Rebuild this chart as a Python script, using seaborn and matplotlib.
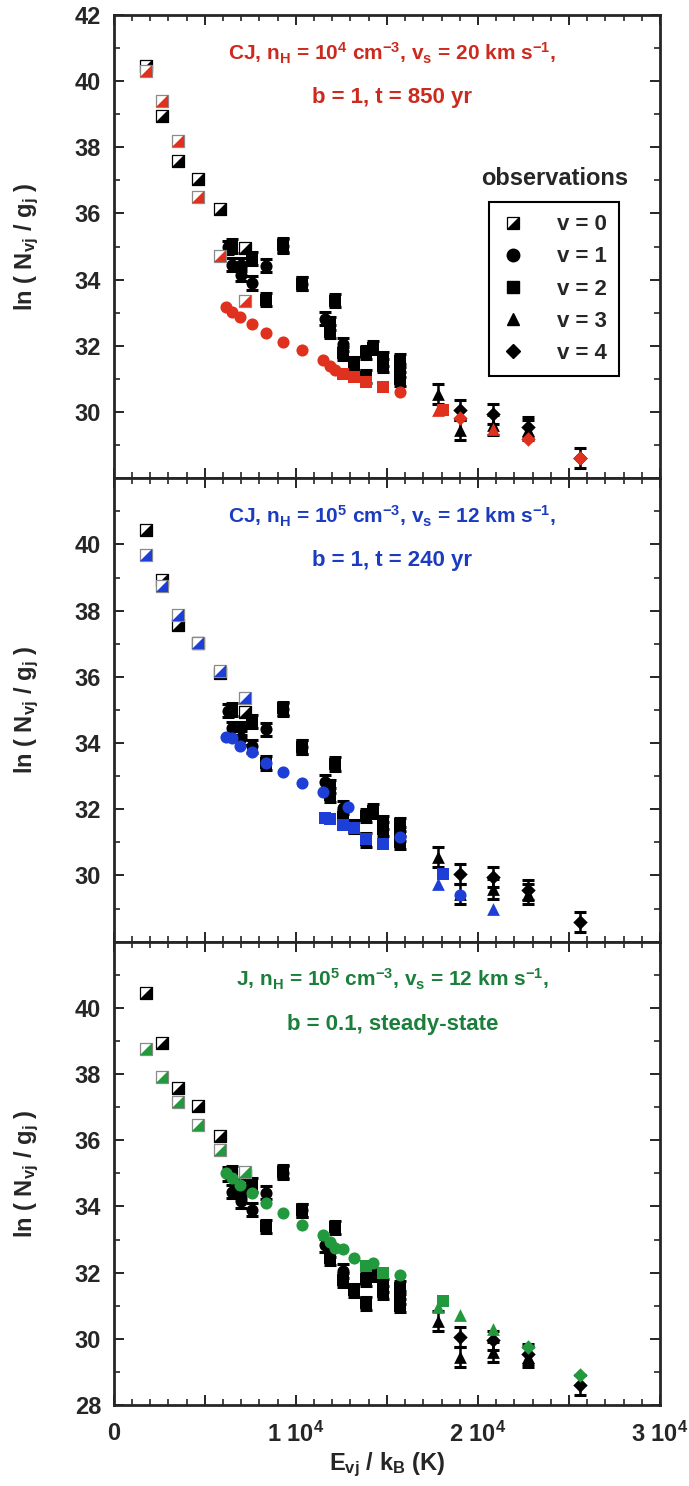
"""Excitation diagram: observed H2 columns vs three shock models (CJ/CJ/J)."""

import matplotlib

matplotlib.use("Agg")

import matplotlib.pyplot as plt
from matplotlib.legend_handler import HandlerTuple
from matplotlib.lines import Line2D
from matplotlib.path import Path
from matplotlib.ticker import FuncFormatter, MultipleLocator
import seaborn as sns


# --- observations (same in every panel) ---------------------------------
obs_v0_E = [1750, 2640, 3530, 4630, 5860, 7230]
obs_v0_y = [40.45, 38.93, 37.57, 37.03, 36.13, 34.95]

obs_v1_E = [6280, 6520, 7015, 7015, 7600, 8390, 9290, 10330, 11590, 12600]
obs_v1_y = [34.98, 34.45, 34.45, 34.15, 33.9, 34.42, 35.02, 33.88, 32.82, 32.05]

obs_v2_E = [6520, 7600, 8390, 9290, 10330, 11870, 11870, 12140, 12600,
            13190, 13880, 13880, 14250, 14800, 14800, 15710, 15710, 15710]
obs_v2_y = [35.02, 34.65, 33.4, 35.05, 33.88, 32.68, 32.43, 33.37, 31.78,
            31.47, 31.8, 31.07, 31.95, 31.6, 31.4, 31.55, 31.25, 31.0]

obs_v3_E = [17820, 19010, 20840, 22770]
obs_v3_y = [30.55, 29.45, 29.6, 29.45]

obs_v4_E = [19010, 20840, 22770, 25600]
obs_v4_y = [30.05, 29.95, 29.55, 28.6]

obs_err_low_v = 0.2
obs_err_high_v = 0.3

# --- model 1: CJ, nH = 1e4, vs = 20 km/s (red) ---------------------------
cj4_v0_y = [40.3, 39.4, 38.2, 36.5, 34.7, 33.37]
cj4_v1_E = [6190, 6520, 6920, 7600, 8390, 9290, 10330, 11480, 11870, 12140, 15710]
cj4_v1_y = [33.16, 33.03, 32.88, 32.66, 32.4, 32.13, 31.88, 31.58, 31.4, 31.27, 30.6]
cj4_v2_E = [12600, 13190, 13880, 14800, 18100]
cj4_v2_y = [31.15, 31.05, 30.92, 30.76, 30.07]
cj4_v3_E = [17820, 20840]
cj4_v3_y = [30.07, 29.5]
cj4_v4_E = [19010, 22770, 25600]
cj4_v4_y = [29.82, 29.18, 28.6]

# --- model 2: CJ, nH = 1e5, vs = 12 km/s (blue) --------------------------
cj5_v0_y = [39.69, 38.75, 37.86, 37.02, 36.17, 35.37]
cj5_v1_E = [6190, 6520, 6920, 7600, 8390, 9290, 10330, 11480, 12870, 15710, 19010]
cj5_v1_y = [34.18, 34.15, 33.9, 33.72, 33.41, 33.14, 32.8, 32.52, 32.07, 31.15, 29.4]
cj5_v2_E = [11590, 11870, 12600, 13190, 13880, 14800, 18100]
cj5_v2_y = [31.75, 31.72, 31.52, 31.42, 31.11, 30.96, 30.05]
cj5_v3_E = [17820, 20840]
cj5_v3_y = [29.75, 29.0]

# --- model 3: J, nH = 1e5, vs = 12 km/s (green) --------------------------
j5_v0_y = [38.75, 37.92, 37.16, 36.46, 35.7, 35.05]
j5_v1_E = [6190, 6520, 6920, 7600, 8390, 9290, 10330, 11480, 11870, 12140,
           12600, 13190, 14250, 15710]
j5_v1_y = [35.0, 34.85, 34.65, 34.4, 34.09, 33.79, 33.44, 33.14, 32.92, 32.75,
           32.7, 32.45, 32.3, 31.92]
j5_v2_E = [13880, 14800, 18100]
j5_v2_y = [32.2, 31.98, 31.15]
j5_v3_E = [17820, 19010, 20840]
j5_v3_y = [30.97, 30.72, 30.3]
j5_v4_E = [22770, 25600]
j5_v4_y = [29.75, 28.92]

panel_text = [
    (r"CJ, n$_{H}$ = 10$^{4}$ cm$^{-3}$, v$_{s}$ = 20 km s$^{-1}$,", "b = 1, t = 850 yr"),
    (r"CJ, n$_{H}$ = 10$^{5}$ cm$^{-3}$, v$_{s}$ = 12 km s$^{-1}$,", "b = 1, t = 240 yr"),
    (r"J, n$_{H}$ = 10$^{5}$ cm$^{-3}$, v$_{s}$ = 12 km s$^{-1}$,", "b = 0.1, steady-state"),
]
legend_labels = ["v = 0", "v = 1", "v = 2", "v = 3", "v = 4"]

RED, BLUE, GREEN = "#e0301e", "#1d3fd8", "#22993d"
RED_TXT, BLUE_TXT, GREEN_TXT = "#cc2a1f", "#1c3cc0", "#1a7f3a"

# lower-right half of a square, overlaid on an open square
HALF = Path([(-1, -1), (1, -1), (1, 1), (-1, -1)],
            [Path.MOVETO, Path.LINETO, Path.LINETO, Path.CLOSEPOLY])
S = 76


def points(ax, E, y, marker, color, s=S, edge=None, lw=0.0, z=3):
    sns.scatterplot(x=E, y=y, ax=ax, marker=marker, color=color,
                    edgecolor=edge if edge else color, linewidth=lw, s=s,
                    zorder=z, legend=False)


def half_squares(ax, E, y, color, edge, z):
    points(ax, E, y, "s", "white", edge=edge, lw=0.9, z=z)
    points(ax, E, y, HALF, color, z=z + 0.1)


def draw_obs(ax):
    for E, y, err in [(obs_v1_E, obs_v1_y, obs_err_low_v), (obs_v2_E, obs_v2_y, obs_err_low_v),
                      (obs_v3_E, obs_v3_y, obs_err_high_v), (obs_v4_E, obs_v4_y, obs_err_high_v)]:
        ax.errorbar(E, y, yerr=err, fmt="none", ecolor="black", elinewidth=1.8,
                    capsize=4, capthick=2.2, zorder=2)
    half_squares(ax, obs_v0_E, obs_v0_y, "black", "black", 2.5)
    points(ax, obs_v1_E, obs_v1_y, "o", "black", z=2.6)
    points(ax, obs_v2_E, obs_v2_y, "s", "black", z=2.6)
    points(ax, obs_v3_E, obs_v3_y, "^", "black", s=84, z=2.6)
    points(ax, obs_v4_E, obs_v4_y, "D", "black", s=54, z=2.6)


def draw_model(ax, color, v0_y, groups):
    half_squares(ax, obs_v0_E, v0_y, color, "#8a8a8a", 4)
    for marker, E, y in groups:
        s = {"^": 84, "D": 54}.get(marker, S)
        points(ax, E, y, marker, color, s=s, z=4.2)


def main() -> None:
    sns.set_style("ticks")
    plt.rcParams["font.family"] = ["Liberation Sans", "DejaVu Sans"]
    plt.rcParams["font.weight"] = "bold"
    plt.rcParams["mathtext.fontset"] = "custom"
    plt.rcParams["mathtext.rm"] = "Liberation Sans:bold"
    plt.rcParams["mathtext.it"] = "Liberation Sans:bold"
    plt.rcParams["mathtext.bf"] = "Liberation Sans:bold"

    fig = plt.figure(figsize=(6.89, 14.86), dpi=100)
    axes = fig.subplots(3, 1, sharex=True, gridspec_kw=dict(hspace=0))
    fig.subplots_adjust(left=0.165, right=0.958, top=0.99, bottom=0.0545)

    models = [
        (RED, RED_TXT, cj4_v0_y, [("o", cj4_v1_E, cj4_v1_y), ("s", cj4_v2_E, cj4_v2_y),
                                  ("^", cj4_v3_E, cj4_v3_y), ("D", cj4_v4_E, cj4_v4_y)]),
        (BLUE, BLUE_TXT, cj5_v0_y, [("o", cj5_v1_E, cj5_v1_y), ("s", cj5_v2_E, cj5_v2_y),
                                    ("^", cj5_v3_E, cj5_v3_y)]),
        (GREEN, GREEN_TXT, j5_v0_y, [("o", j5_v1_E, j5_v1_y), ("s", j5_v2_E, j5_v2_y),
                                     ("^", j5_v3_E, j5_v3_y), ("D", j5_v4_E, j5_v4_y)]),
    ]
    ylab_range = [(30, 42), (30, 40), (28, 40)]

    for i, ax in enumerate(axes):
        color, tcolor, v0_y, groups = models[i]
        draw_obs(ax)
        draw_model(ax, color, v0_y, groups)

        ax.set_xlim(0, 30000)
        ax.set_ylim(28, 42)
        ax.xaxis.set_major_locator(MultipleLocator(5000))
        ax.xaxis.set_minor_locator(MultipleLocator(1000))
        ax.yaxis.set_major_locator(MultipleLocator(2))
        ax.yaxis.set_minor_locator(MultipleLocator(1))
        lo, hi = ylab_range[i]
        ax.yaxis.set_major_formatter(FuncFormatter(
            lambda v, p, lo=lo, hi=hi: f"{v:.0f}" if lo - 0.1 <= v <= hi + 0.1 else ""))
        ax.xaxis.set_major_formatter(FuncFormatter(
            lambda v, p: "0" if v == 0 else (rf"{int(v // 10000)} 10$^{{4}}$" if v % 10000 == 0 else "")))
        ax.tick_params(which="both", direction="in", top=True, right=True, labelsize=17)
        ax.tick_params(axis="y", which="major", pad=9)
        ax.tick_params(axis="x", which="major", pad=12)
        ax.tick_params(which="major", length=7, width=1.4)
        ax.tick_params(which="minor", length=4, width=1.2)
        for sp in ax.spines.values():
            sp.set_linewidth(2)
        ax.set_ylabel(r"ln ( N$_{vj}$ / g$_{j}$ )", fontsize=17, fontweight="bold", labelpad=24)
        ax.set_xlabel("")

        line1, line2 = panel_text[i]
        ax.text(0.51, (40.85 - 28) / 14, line1, transform=ax.transAxes, ha="center",
                va="center", color=tcolor, fontsize=15, fontweight="bold")
        ax.text(0.51, (39.5 - 28) / 14, line2, transform=ax.transAxes, ha="center",
                va="center", color=tcolor, fontsize=16, fontweight="bold")

    axes[2].set_xlabel(r"E$_{vj}$ / k$_{B}$ (K)", fontsize=17, fontweight="bold", labelpad=3)

    # legend for observations (top panel)
    ms = 9
    handles = [
        (Line2D([], [], marker="s", ls="none", mfc="white", mec="black", ms=ms, mew=0.9),
         Line2D([], [], marker=HALF, ls="none", mfc="black", mec="black", ms=ms, mew=0)),
        Line2D([], [], marker="o", ls="none", color="black", ms=ms),
        Line2D([], [], marker="s", ls="none", color="black", ms=ms),
        Line2D([], [], marker="^", ls="none", color="black", ms=ms),
        Line2D([], [], marker="D", ls="none", color="black", ms=ms * 0.8),
    ]
    leg = axes[0].legend(handles, legend_labels, loc="upper right", bbox_to_anchor=(0.925, 0.596),
                         frameon=True, fancybox=False, edgecolor="black", framealpha=1,
                         handlelength=1.0, handletextpad=1.5, labelspacing=0.5,
                         borderpad=0.55, borderaxespad=0, fontsize=16,
                         handler_map={tuple: HandlerTuple(ndivide=1)})
    leg.get_frame().set_linewidth(1.5)
    axes[0].text(0.808, (37.07 - 28) / 14, "observations", transform=axes[0].transAxes,
                 ha="center", va="center", fontsize=17, fontweight="bold")

    fig.savefig("out.png", dpi=100)
    plt.close(fig)


if __name__ == "__main__":
    main()
